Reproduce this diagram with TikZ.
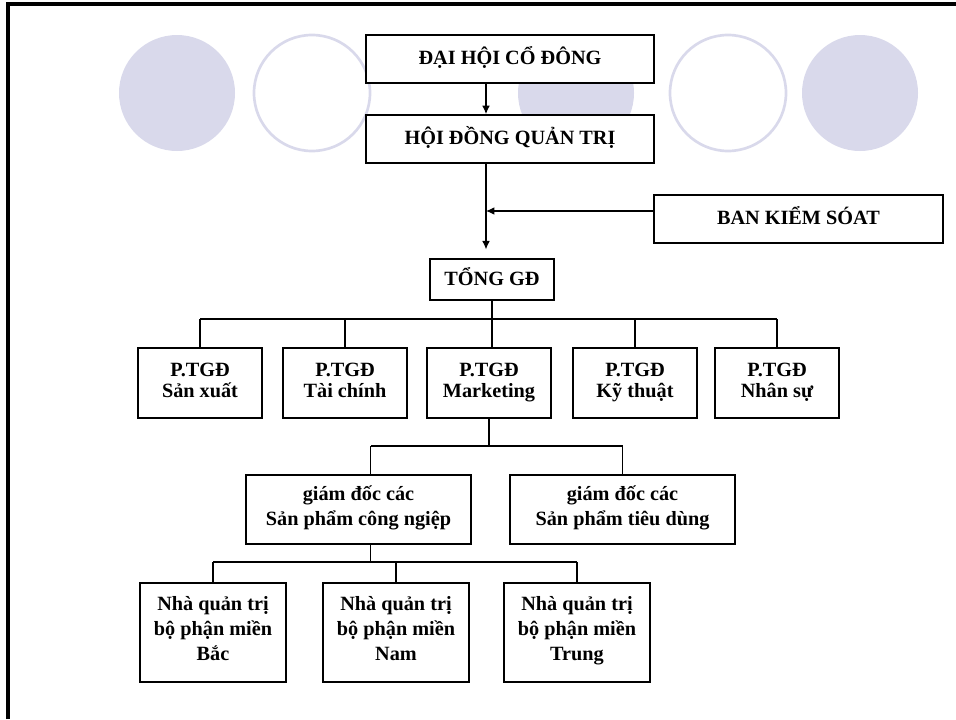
\documentclass[tikz,border=0pt]{standalone}
\usepackage{fontspec}
\setmainfont{Liberation Serif}
\usetikzlibrary{arrows.meta}
\definecolor{lavender}{RGB}{217,217,235}

\begin{document}
\begin{tikzpicture}[
        box/.style={draw, fill=white, line width=1.3pt, inner sep=0pt, align=center,
            font=\bfseries\fontsize{14.4}{15}\selectfont, execute at end node=\strut},
        tallbox/.style={box, font=\bfseries\fontsize{14.4}{17.8}\selectfont},
        bus/.style={line width=1.8pt},
        link/.style={line width=0.8pt},
        >={Latex[length=6pt,width=5.5pt]}
    ]
        \useasboundingbox (0, 0) rectangle (23.9, -17.975);
        \draw[line width=2.2pt] (0.2, -17.975) -- (0.2, -0.1) -- (23.9, -0.1);

        \fill[lavender] (4.425, -2.325) circle (1.45);
        \draw[lavender, line width=1.9pt] (7.8, -2.325) circle (1.45);
        \fill[lavender] (14.4, -2.325) circle (1.45);
        \draw[lavender, line width=1.9pt] (18.2, -2.325) circle (1.45);
        \fill[lavender] (21.5, -2.325) circle (1.45);

        \node[box, minimum width=7.2cm, minimum height=1.2cm] (DHCD) at (12.75, -1.475) {ĐẠI HỘI CỔ ĐÔNG};
        \node[box, minimum width=7.2cm, minimum height=1.2cm] (HDQT) at (12.75, -3.475) {HỘI ĐỒNG QUẢN TRỊ};
        \node[box, minimum width=7.225cm, minimum height=1.2cm] (BKS) at (19.96, -5.475) {BAN KIỂM SÓAT};
        \node[box, minimum width=3.1cm, minimum height=1.025cm] (TGD) at (12.3, -6.99) {TỔNG GĐ};

        \node[box, minimum width=3.1cm, minimum height=1.75cm] (PSX) at (5.0, -9.575) {P.TGĐ\\Sản xuất};
        \node[box, minimum width=3.1cm, minimum height=1.75cm] (PTC) at (8.625, -9.575) {P.TGĐ\\Tài chính};
        \node[box, minimum width=3.1cm, minimum height=1.75cm] (PMK) at (12.225, -9.575) {P.TGĐ\\Marketing};
        \node[box, minimum width=3.1cm, minimum height=1.75cm] (PKT) at (15.875, -9.575) {P.TGĐ\\Kỹ thuật};
        \node[box, minimum width=3.1cm, minimum height=1.75cm] (PNS) at (19.425, -9.575) {P.TGĐ\\Nhân sự};

        \node[tallbox, minimum width=5.625cm, minimum height=1.725cm] (GCN) at (8.9625, -12.7375) {giám đốc các\\Sản phẩm công ngiệp};
        \node[tallbox, minimum width=5.625cm, minimum height=1.725cm] (GTD) at (15.5625, -12.7375) {giám đốc các\\Sản phẩm tiêu dùng};

        \node[tallbox, minimum width=3.65cm, minimum height=2.475cm] (NQB) at (5.325, -15.8125) {Nhà quản trị\\bộ phận miền\\Bắc};
        \node[tallbox, minimum width=3.65cm, minimum height=2.475cm] (NQN) at (9.9, -15.8125) {Nhà quản trị\\bộ phận miền\\Nam};
        \node[tallbox, minimum width=3.65cm, minimum height=2.475cm] (NQT) at (14.425, -15.8125) {Nhà quản trị\\bộ phận miền\\Trung};

        % top of the chart
        \coordinate (spine) at (12.15, 0);
        \draw[link, ->] (DHCD.south -| spine) -- (HDQT.north -| spine);
        \draw[link, ->, shorten >=0.22cm] (HDQT.south -| spine) -- (TGD.north -| spine);
        \draw[link, ->] ([yshift=0.2cm]BKS.west) -- ([yshift=0.2cm]BKS.west -| spine);

        % deputies
        \coordinate (b1) at (0, -7.975);
        \draw[link] (TGD.south) -- (TGD.south |- PMK.north);
        \draw[bus] (b1 -| PSX.north) -- (b1 -| PNS.north);
        \foreach \p in {PSX, PTC, PKT, PNS}
            \draw[link] (b1 -| \p.north) -- (\p.north);

        % product directors
        \coordinate (b2) at (0, -11.15);
        \coordinate (gx) at (9.27, 0);
        \draw[link] (PMK.south) -- (PMK.south |- b2);
        \draw[bus] (b2 -| gx) -- (b2 -| GTD.north);
        \draw[link] (b2 -| gx) -- (GCN.north -| gx);
        \draw[link] (b2 -| GTD.north) -- (GTD.north);

        % regional managers
        \coordinate (b3) at (0, -14.05);
        \draw[link] (GCN.south -| gx) -- (b3 -| gx);
        \draw[bus] (b3 -| NQB.north) -- (b3 -| NQT.north);
        \foreach \n in {NQB, NQN, NQT}
            \draw[link] (b3 -| \n.north) -- (\n.north);
\end{tikzpicture}
\end{document}
